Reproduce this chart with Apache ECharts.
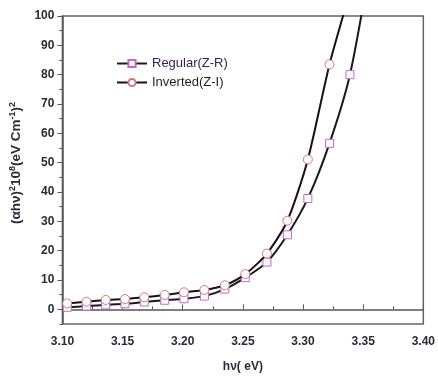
<!DOCTYPE html>
<html>
<head>
<meta charset="utf-8">
<script src="https://cdn.jsdelivr.net/npm/echarts@6/dist/echarts.min.js"></script>
<style>
  html, body { margin: 0; padding: 0; background: #fff; }
  #chart { width: 438px; height: 378px; }
</style>
</head>
<body>
<div id="chart"></div>
<script>
// Photon energy (eV) of each measured point
const energy = [3.104, 3.120, 3.136, 3.152, 3.168, 3.185, 3.201, 3.218, 3.235, 3.252, 3.270, 3.287, 3.304, 3.322, 3.339, 3.356];

// (αhν)² ×10⁸ (eV cm⁻¹)² for both device structures
const regular  = [0.7, 1.1, 1.5, 1.9, 2.5, 3.1, 3.6, 4.5, 6.9, 10.8, 16.1, 25.4, 37.8, 56.6, 80.0, 118.0];
const inverted = [2.0, 2.6, 3.2, 3.5, 4.1, 4.9, 5.8, 6.6, 8.2, 12.0, 19.0, 30.2, 51.1, 83.5, 108.0];

const seriesNames = ['Regular(Z-R)', 'Inverted(Z-I)'];

// Axis tick positions
const yMajorTicks = [0, 10, 20, 30, 40, 50, 60, 70, 80, 90, 100];
const yMinorTicks = [-5, 5, 15, 25, 35, 45, 55, 65, 75, 85, 95];

function pairs(xs, ys) {
  return ys.map((y, i) => [xs[i], y]);
}

const font = 'Liberation Sans, Arial, sans-serif';
const axisColor = '#555';
const textColor = '#2a2a3a';

const chart = echarts.init(document.getElementById('chart'), null, { renderer: 'canvas' });

chart.setOption({
  animation: false,
  backgroundColor: '#fff',
  grid: {
    left: 62, right: 13, top: 16, bottom: 52,
    show: true, borderColor: '#666', borderWidth: 1.5,
    backgroundColor: 'transparent'
  },
  legend: {
    orient: 'vertical',
    left: 116, top: 57,
    padding: 0,
    itemWidth: 30, itemHeight: 9, itemGap: 6,
    textStyle: { fontFamily: font, fontSize: 13, color: '#222' },
    data: [
      { name: seriesNames[0], textStyle: { color: '#3a2150' } },
      { name: seriesNames[1], textStyle: { color: '#2a1a1a' } }
    ]
  },
  xAxis: {
    type: 'value',
    min: 3.10, max: 3.40, interval: 0.05,
    name: 'hν( eV)',
    nameLocation: 'middle',
    nameGap: 37,
    nameTextStyle: { fontFamily: font, fontSize: 12, fontWeight: 'bold', color: textColor },
    axisLine: { show: true, lineStyle: { color: axisColor, width: 1.5 } },
    axisTick: { show: true, inside: true, length: 5, lineStyle: { color: axisColor, width: 1 } },
    minorTick: { show: true, splitNumber: 2, length: 3, lineStyle: { color: axisColor, width: 1 } },
    axisLabel: {
      margin: 12,
      fontFamily: font, fontSize: 12, fontWeight: 'bold', color: textColor,
      formatter: v => v.toFixed(2)
    },
    splitLine: { show: false },
    minorSplitLine: { show: false }
  },
  yAxis: [
    {
      type: 'value',
      min: -5, max: 100, interval: 5,
      name: '{a|(αhν)}{s|2}{a|10}{s|8}{a|(eV Cm}{s|-1}{a|)}{s|2}',
      nameLocation: 'middle',
      nameRotate: 90,
      nameGap: 34,
      nameTextStyle: {
        padding: [0, 0, 0, 14],
        rich: {
          a: { fontFamily: font, fontSize: 13.5, fontWeight: 'bold', color: textColor, lineHeight: 17 },
          s: { fontFamily: font, fontSize: 9, fontWeight: 'bold', color: textColor, lineHeight: 10, verticalAlign: 'top' }
        }
      },
      axisLine: { show: true, lineStyle: { color: axisColor, width: 1.5 } },
      axisTick: { show: true, inside: false, length: 5, customValues: yMajorTicks, lineStyle: { color: axisColor, width: 1 } },
      axisLabel: {
        margin: 8,
        customValues: yMajorTicks,
        fontFamily: font, fontSize: 12, fontWeight: 'bold', color: textColor
      },
      splitLine: { show: false }
    },
    {
      // minor ticks between the labelled values
      type: 'value',
      position: 'left',
      min: -5, max: 100, interval: 5,
      axisLine: { show: false },
      axisTick: { show: true, inside: false, length: 3, customValues: yMinorTicks, lineStyle: { color: axisColor, width: 1 } },
      axisLabel: { show: false },
      splitLine: { show: false }
    }
  ],
  series: [
    {
      name: seriesNames[0],
      type: 'line',
      data: pairs(energy, regular),
      smooth: 0.25,
      clip: true,
      symbol: 'rect',
      symbolSize: 8,
      lineStyle: { color: '#1a1a1a', width: 2 },
      itemStyle: { color: '#ffffff', borderColor: '#c866cc', borderWidth: 1 },
      z: 3
    },
    {
      name: seriesNames[1],
      type: 'line',
      data: pairs(energy, inverted),
      smooth: 0.25,
      clip: true,
      symbol: 'circle',
      symbolSize: 9,
      lineStyle: { color: '#1a1010', width: 2 },
      itemStyle: { color: '#ffffff', borderColor: '#cc7a80', borderWidth: 1 },
      z: 4
    }
  ]
});
</script>
</body>
</html>
